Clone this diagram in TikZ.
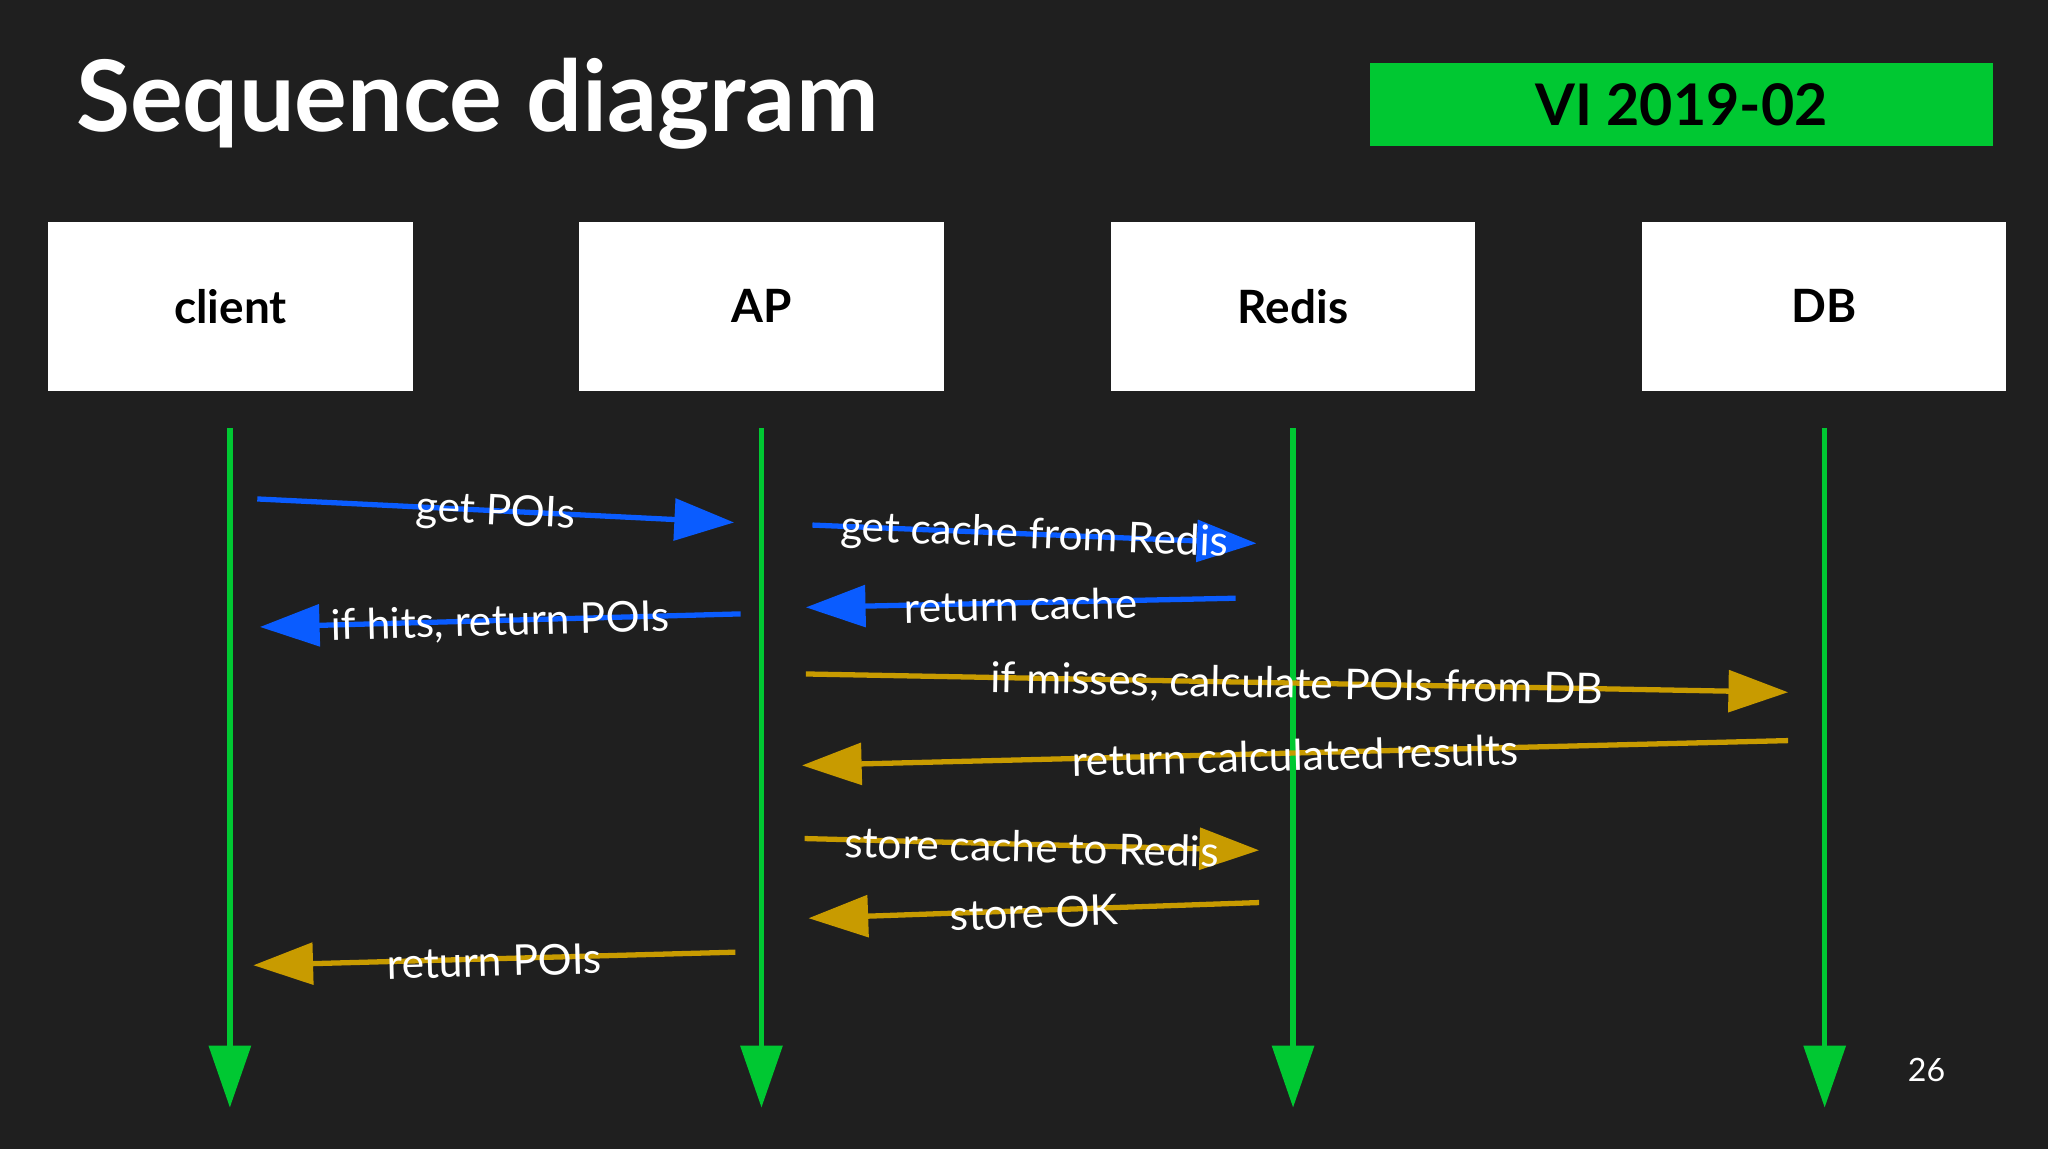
\documentclass[tikz,border=0pt]{standalone}
\usepackage{fontspec}
\setmainfont{Lato}
\usetikzlibrary{arrows.meta}
\definecolor{bg}{HTML}{1F1F1F}
\definecolor{lg}{HTML}{00C832}
\definecolor{bl}{HTML}{0A5CFF}
\definecolor{gd}{HTML}{C89B00}
\begin{document}
\begin{tikzpicture}[x=0.02cm,y=-0.02cm,
  box/.style={draw=none,fill=white,minimum width=279*0.02cm,minimum height=129*0.02cm,font=\fontsize{20}{24}\selectfont\bfseries,text=black},
  life/.style={lg,line width=2.3pt,-{Triangle[length=27pt,width=18pt]}},
  msg/.style={line width=2.3pt,-{Triangle[length=26pt,width=18pt]}},
  lab/.style={text=white,font=\fontsize{18.5}{22}\selectfont,sloped,inner sep=0pt,yshift=-1pt}]
\fill[bg] (0,0) rectangle (1568,880);
\useasboundingbox (0,0) rectangle (1568,880);
\node[anchor=base west,text=white,font=\fontsize{43}{48}\selectfont\bfseries,inner sep=0pt] (title) at (58,101) {Sequence diagram};
\node[fill=lg,minimum width=477*0.02cm,minimum height=64*0.02cm,font=\fontsize{25}{28}\selectfont\bfseries,text=black] (ver) at (1287.5,80) {VI 2019-02};
\node[box] (client) at (176.5,234.5) {client};
\node[box] (ap) at (583,234.5) {AP};
\node[box] (redis) at (990,234.5) {Redis};
\node[box] (db) at (1396.5,234.5) {DB};
\foreach \n/\x in {c/176,a/583,r/990,d/1397}{
  \coordinate (\n1) at (\x,328); \coordinate (\n2) at (\x,848);
  \draw[life] (\n1) -- (\n2);}
\coordinate (m1s) at (197,382); \coordinate (m1e) at (562,400);
\coordinate (m2s) at (622,402); \coordinate (m2e) at (962,416);
\coordinate (m3s) at (567,470); \coordinate (m3e) at (199,480);
\coordinate (m4s) at (946,458); \coordinate (m4e) at (617,465);
\coordinate (m5s) at (617,516); \coordinate (m5e) at (1369,530);
\coordinate (m6s) at (1369,567); \coordinate (m6e) at (614,586);
\coordinate (m7s) at (616,642); \coordinate (m7e) at (964,651);
\coordinate (m8s) at (964,691); \coordinate (m8e) at (619,703);
\coordinate (m9s) at (563,729); \coordinate (m9e) at (194,739);
\draw[msg,bl] (m1s) -- node[lab,pos=0.5] {get POIs} (m1e);
\draw[msg,bl] (m2s) -- node[lab,pos=0.5] {get cache from Redis} (m2e);
\draw[msg,bl] (m3s) -- node[lab,pos=0.5] {if hits, return POIs} (m3e);
\draw[msg,bl] (m4s) -- node[lab,pos=0.5] {return cache} (m4e);
\draw[msg,gd] (m5s) -- node[lab,pos=0.5] {if misses, calculate POIs from DB} (m5e);
\draw[msg,gd] (m6s) -- node[lab,pos=0.5] {return calculated results} (m6e);
\draw[msg,gd] (m7s) -- node[lab,pos=0.5] {store cache to Redis} (m7e);
\draw[msg,gd] (m8s) -- node[lab,pos=0.5] {store OK} (m8e);
\draw[msg,gd] (m9s) -- node[lab,pos=0.5] {return POIs} (m9e);
\node[text=white,font=\fontsize{14}{16}\selectfont] (pg) at (1475,819) {26};
\end{tikzpicture}
\end{document}
